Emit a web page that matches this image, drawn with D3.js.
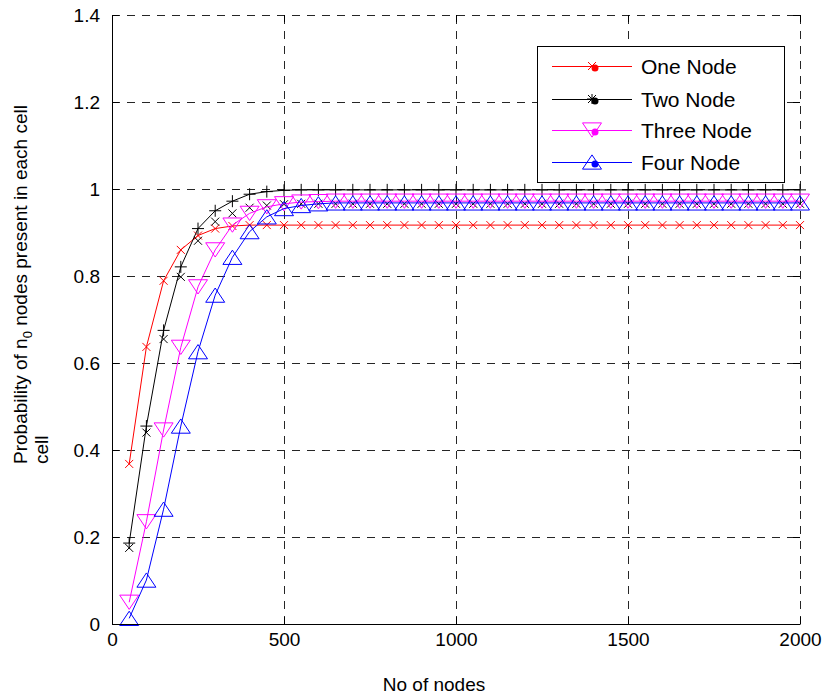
<!DOCTYPE html>
<html>
<head>
<meta charset="utf-8">
<script src="https://cdn.jsdelivr.net/npm/d3@7"></script>
<style>
  body { margin: 0; background: #fff; }
  svg { display: block; }
  text { font-family: "Liberation Sans", Arial, Helvetica, sans-serif; fill: #000; }
</style>
</head>
<body>
<svg id="chart" width="822" height="696"></svg>
<script>
// Number of nodes deployed (x values)
const nodes = [50,100,150,200,250,300,350,400,450,500,550,600,650,700,750,800,850,900,950,1000,
               1050,1100,1150,1200,1250,1300,1350,1400,1450,1500,1550,1600,1650,1700,1750,1800,1850,1900,1950,2000];

// Probability that n0 nodes are present in each cell
const oneNode = [0.368,0.637,0.789,0.860,0.893,0.909,0.915,0.917,0.917,0.917,0.917,0.917,0.917,0.917,0.917,0.917,0.917,0.917,0.917,0.917,
                 0.917,0.917,0.917,0.917,0.917,0.917,0.917,0.917,0.917,0.917,0.917,0.917,0.917,0.917,0.917,0.917,0.917,0.917,0.917,0.917];
const twoNode = [0.186,0.455,0.675,0.821,0.909,0.950,0.972,0.988,0.994,0.997,0.998,0.998,0.998,0.998,0.998,0.998,0.998,0.998,0.998,0.998,
                 0.998,0.998,0.998,0.998,0.998,0.998,0.998,0.998,0.998,0.998,0.998,0.998,0.998,0.998,0.998,0.998,0.998,0.998,0.998,0.998];
const twoNodeSim = [0.175,0.440,0.655,0.798,0.881,0.925,0.944,0.957,0.962,0.965,0.966,0.966,0.966,0.966,0.966,0.966,0.966,0.966,0.966,0.966,
                    0.966,0.966,0.966,0.966,0.966,0.966,0.966,0.966,0.966,0.966,0.966,0.966,0.966,0.966,0.966,0.966,0.966,0.966,0.966,0.966];
const threeNode = [0.050,0.235,0.446,0.636,0.775,0.860,0.917,0.944,0.959,0.966,0.970,0.971,0.972,0.972,0.972,0.972,0.972,0.972,0.972,0.972,
                   0.972,0.972,0.972,0.972,0.972,0.972,0.972,0.972,0.972,0.972,0.972,0.972,0.972,0.972,0.972,0.972,0.972,0.972,0.972,0.972];
const fourNode = [0.013,0.101,0.264,0.455,0.626,0.756,0.843,0.902,0.936,0.955,0.962,0.966,0.968,0.968,0.968,0.968,0.968,0.968,0.968,0.968,
                  0.968,0.968,0.968,0.968,0.968,0.968,0.968,0.968,0.968,0.968,0.968,0.968,0.968,0.968,0.968,0.968,0.968,0.968,0.968,0.968];

// Axis ticks and labels
const xTicks = [0,500,1000,1500,2000];
const xTickLabels = ["0","500","1000","1500","2000"];
const yTicks = [0,0.2,0.4,0.6,0.8,1,1.2,1.4];
const yTickLabels = ["0","0.2","0.4","0.6","0.8","1","1.2","1.4"];
const legendLabels = ["One Node","Two Node","Three Node","Four Node"];

const W = 822, H = 696;
const margin = { left: 112, right: 22, top: 15, bottom: 72 };
const x = d3.scaleLinear().domain([0, 2000]).range([margin.left, W - margin.right]);
const y = d3.scaleLinear().domain([0, 1.4]).range([H - margin.bottom, margin.top]);

const svg = d3.select("#chart");
const plot = svg.append("g");

// Dashed grid (also forms the top and right edges)
const grid = plot.append("g").attr("stroke", "#262626").attr("stroke-width", 1).attr("stroke-dasharray", "8,7").attr("fill", "none");
grid.selectAll("line.gx").data(xTicks.filter(d => d > 0)).join("line")
  .attr("x1", d => Math.round(x(d)) + 0.5).attr("x2", d => Math.round(x(d)) + 0.5)
  .attr("y1", y(0)).attr("y2", y(1.4));
grid.selectAll("line.gy").data(yTicks.filter(d => d > 0)).join("line")
  .attr("y1", d => Math.round(y(d)) + 0.5).attr("y2", d => Math.round(y(d)) + 0.5)
  .attr("x1", x(0)).attr("x2", x(2000));

// Marker shapes
const shapes = {
  cross: s => `M${-s},${-s}L${s},${s}M${-s},${s}L${s},${-s}`,
  plus: s => `M${-s},0L${s},0M0,${-s}L0,${s}`,
  triDown: s => `M${-s},${-s * 0.75}L${s},${-s * 0.75}L0,${s * 0.75}Z`,
  triUp: s => `M0,${-s * 0.75}L${s},${s * 0.75}L${-s},${s * 0.75}Z`
};

const series = [
  { values: oneNode,    color: "#ff0000", shape: "cross",   size: 4,   line: true },
  { values: twoNode,    color: "#000000", shape: "plus",    size: 6,   line: true },
  { values: twoNodeSim, color: "#000000", shape: "cross",   size: 4,   line: false },
  { values: threeNode,  color: "#ff00ff", shape: "triDown", size: 9.5, line: true },
  { values: fourNode,   color: "#0000ff", shape: "triUp",   size: 9.5, line: true }
];

const lineGen = d3.line().x(d => x(d[0])).y(d => y(d[1]));

series.forEach(s => {
  const pts = nodes.map((n, i) => [n, s.values[i]]);
  const g = plot.append("g");
  if (s.line) {
    g.append("path").datum(pts).attr("d", lineGen)
      .attr("fill", "none").attr("stroke", s.color).attr("stroke-width", 1);
  }
  g.selectAll("path.m").data(pts).join("path").attr("class", "m")
    .attr("transform", d => `translate(${x(d[0])},${y(d[1])})`)
    .attr("d", shapes[s.shape](s.size))
    .attr("fill", "none").attr("stroke", s.color).attr("stroke-width", 1);
});

// Axes: solid left and bottom, inward ticks on all four sides
const axB = d3.axisBottom(x).tickValues(xTicks).tickFormat((d, i) => xTickLabels[i]).tickSizeInner(-7).tickSizeOuter(0).tickPadding(9);
const axL = d3.axisLeft(y).tickValues(yTicks).tickFormat((d, i) => yTickLabels[i]).tickSizeInner(-7).tickSizeOuter(0).tickPadding(12);
const axT = d3.axisTop(x).tickValues(xTicks).tickFormat("").tickSizeInner(-7).tickSizeOuter(0);
const axR = d3.axisRight(y).tickValues(yTicks).tickFormat("").tickSizeInner(-7).tickSizeOuter(0);

function style(g) {
  g.selectAll("text").style("font-size", "19px").attr("fill", "#000");
  g.selectAll("line").attr("stroke", "#000");
  g.selectAll(".domain").attr("stroke", "#000");
}
svg.append("g").attr("transform", `translate(0,${y(0)})`).call(axB).call(style);
svg.append("g").attr("transform", `translate(${x(0)},0)`).call(axL).call(style);
svg.append("g").attr("transform", `translate(0,${y(1.4)})`).call(axT).call(style).call(g => g.select(".domain").remove());
svg.append("g").attr("transform", `translate(${x(2000)},0)`).call(axR).call(style).call(g => g.select(".domain").remove());

// Axis titles
svg.append("text").attr("x", 434).attr("y", 691).attr("text-anchor", "middle")
  .style("font-size", "19px").text("No of nodes");

const yl = svg.append("text").attr("transform", "translate(27,464) rotate(-90)")
  .attr("text-anchor", "start").style("font-size", "19px");
yl.append("tspan").attr("x", 0).attr("y", 0).text("Probability of n");
yl.append("tspan").attr("dy", 5).style("font-size", "13px").text("0");
yl.append("tspan").attr("dy", -5).text(" nodes present in each cell");
yl.append("tspan").attr("x", 0).attr("y", 21).text("cell");

// Legend
const lg = svg.append("g");
lg.append("rect").attr("x", 537.5).attr("y", 46.5).attr("width", 247).attr("height", 136)
  .attr("fill", "#fff").attr("stroke", "#000").attr("stroke-width", 1);
const legendItems = [
  { color: "#ff0000", shapes: [["cross", 4]] },
  { color: "#000000", shapes: [["plus", 5], ["cross", 4]] },
  { color: "#ff00ff", shapes: [["triDown", 9.5]] },
  { color: "#0000ff", shapes: [["triUp", 9.5]] }
];
const legendY = [66, 99, 130, 162];
legendItems.forEach((it, i) => {
  const gy = legendY[i];
  const g = lg.append("g").attr("transform", `translate(0,${gy})`);
  g.append("line").attr("x1", 552).attr("x2", 632).attr("y1", 0.5).attr("y2", 0.5)
    .attr("stroke", it.color).attr("stroke-width", 1);
  it.shapes.forEach(([sh, sz]) => {
    g.append("path").attr("transform", "translate(592,0)").attr("d", shapes[sh](sz))
      .attr("fill", "none").attr("stroke", it.color).attr("stroke-width", 1);
  });
  g.append("circle").attr("cx", 595).attr("cy", 2).attr("r", 3.5).attr("fill", it.color);
  g.append("text").attr("x", 641).attr("y", 0).attr("dy", "0.36em")
    .style("font-size", "21px").text(legendLabels[i]);
});
</script>
</body>
</html>
